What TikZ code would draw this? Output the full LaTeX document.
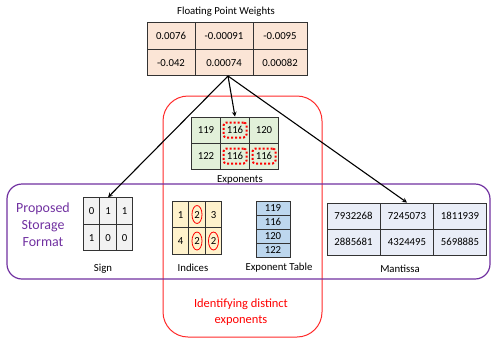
\documentclass[tikz,border=0pt]{standalone}
\usepackage{fontspec}
\setmainfont{Carlito}
\usepackage{xcolor}
\usepackage{tikz}
\usetikzlibrary{shapes.geometric, arrows, positioning}
\definecolor{wfill}{HTML}{FBE5D6}
\definecolor{efill}{HTML}{E2F0D9}
\definecolor{sfill}{HTML}{F2F2F2}
\definecolor{ifill}{HTML}{FFF2CC}
\definecolor{tfill}{HTML}{BDD7EE}
\definecolor{mfill}{HTML}{E9EDF7}
\definecolor{purp}{HTML}{7030A0}
\definecolor{redln}{HTML}{FF2A2A}

\begin{document}
\begin{tikzpicture}[x=1bp, y=-1bp,
arr/.style={->, >=stealth, line width=1.1pt, black}, cell/.style={rectangle, draw=black!80, line
width=0.9pt, inner sep=0pt, minimum height=26.5bp, text height=7.4bp, text depth=0pt,
font=\fontsize{10.8}{12}\selectfont}, lbl/.style={font=\fontsize{10.8}{12}\selectfont},
pick/.style={rectangle, rounded corners=3pt, draw=red, dotted, line width=2pt, minimum width=23bp,
minimum height=15bp}, ring/.style={ellipse, draw=red, line width=0.8pt, minimum width=10bp, minimum
height=18bp, inner sep=0pt}, frame/.style={rectangle, line width=1pt, inner sep=0pt} ]
\useasboundingbox (0,0) rectangle (493,339);
\node[frame, draw=redln, rounded corners=25bp, minimum width=159bp, minimum height=241bp] (core) at (242.5,216.5) {};
\node[frame, draw=purp, line width=1.2pt, rounded corners=15bp, minimum width=483bp, minimum height=95bp] (store) at (248.5,231.5) {};
\node[lbl] (wtitle) at (226,12) {Floating Point Weights};
\foreach \c/\x/\w/\va/\vb in {1/171/48/0.0076/-0.042, 2/224/58/-0.00091/0.00074, 3/280/54/-0.0095/0.00082} {
  \node[cell, fill=wfill, minimum width=\w bp] (w1\c) at (\x,36) {\va};
  \node[cell, fill=wfill, minimum width=\w bp] (w2\c) at (\x,62.5) {\vb};
}
\foreach \c/\x/\va/\vb in {1/206/119/122, 2/235/116/116, 3/264/120/116} {
  \node[cell, fill=efill, minimum width=29bp, minimum height=26bp] (e1\c) at (\x,130) {\va};
  \node[cell, fill=efill, minimum width=29bp, minimum height=26bp] (e2\c) at (\x,156) {\vb};
}
\foreach \n in {e12,e22,e23} \node[pick] (p\n) at (\n) {};
\node[lbl] (elbl) at (240,180) {Exponents};
\node[font=\fontsize{14}{17}\selectfont, text=purp, align=center] (title) at (43,225) {Proposed\\Storage\\Format};
\foreach \c/\x/\va/\vb in {1/91.5/0/1, 2/108/1/0, 3/124.5/1/0} {
  \node[cell, fill=sfill, minimum width=16.7bp] (s1\c) at (\x,211) {\va};
  \node[cell, fill=sfill, minimum width=16.7bp] (s2\c) at (\x,237.5) {\vb};
}
\node[lbl] (slbl) at (103,269) {Sign};
\foreach \c/\x/\va/\vb in {1/180.5/1/4, 2/197/2/2, 3/213.5/3/2} {
  \node[cell, fill=ifill, minimum width=16.7bp] (i1\c) at (\x,214.5) {\va};
  \node[cell, fill=ifill, minimum width=16.7bp] (i2\c) at (\x,241) {\vb};
}
\foreach \n in {i12,i22,i23} \node[ring] (r\n) at (\n) {};
\node[lbl] (ilbl) at (193,268) {Indices};
\foreach \r/\y/\v in {1/208/119, 2/222/116, 3/236/120, 4/250/122}
  \node[cell, fill=tfill, minimum width=34bp, minimum height=14bp] (t\r) at (273,\y) {\v};
\node[lbl] (tlbl) at (279,268) {Exponent Table};
\foreach \c/\x/\va/\vb in {1/353.5/7932268/2885681, 2/407/7245073/4324495, 3/460/1811939/5698885} {
  \node[cell, fill=mfill, minimum width=53bp, minimum height=26bp] (m1\c) at (\x,216) {\va};
  \node[cell, fill=mfill, minimum width=53bp, minimum height=26bp] (m2\c) at (\x,242) {\vb};
}
\node[lbl] (mlbl) at (400,269) {Mantissa};
\node[font=\fontsize{12.5}{16}\selectfont, text=red, align=center] (note) at (241,312) {Identifying distinct\\exponents};
\coordinate (src) at (228,76);
\draw[arr] (src) -- (s12.north);
\draw[arr] (src) -- (e12.north);
\draw[arr] (src) -- (m12.north);
\end{tikzpicture}
\end{document}
